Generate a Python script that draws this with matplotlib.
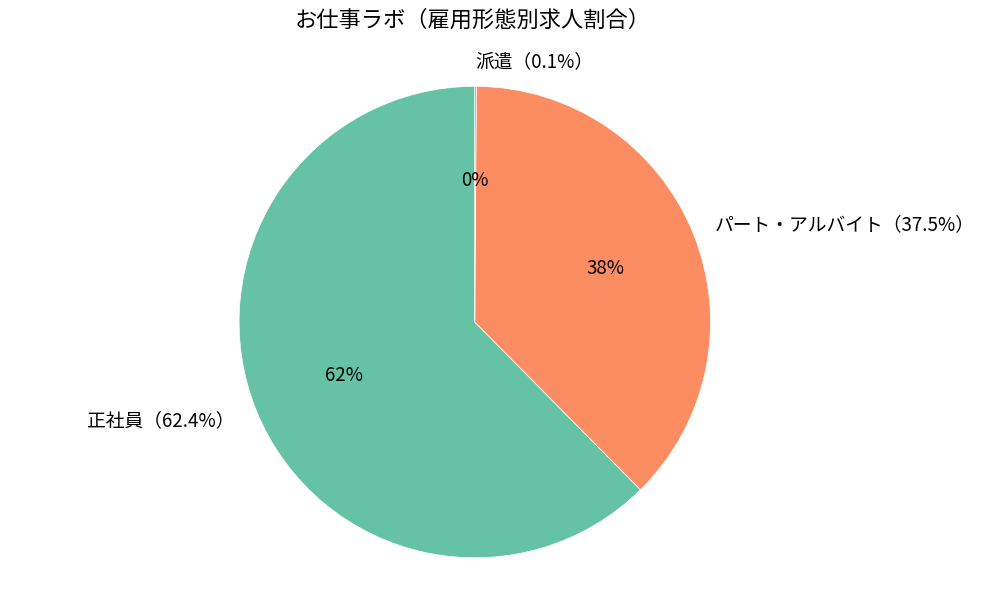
import matplotlib
matplotlib.use("Agg")
import matplotlib.pyplot as plt

plt.rcParams['font.family'] = ['Noto Sans CJK JP', 'DejaVu Sans']

categories = ["正社員", "パート・アルバイト", "派遣"]
shares = [62.4, 37.5, 0.1]
colors = ["#66c2a5", "#fc8d62", "#8da0cb"]

labels = [f"{c}（{v}%）" for c, v in zip(categories, shares)]

fig, ax = plt.subplots(figsize=(9.82, 5.92), dpi=100)
ax.pie(shares, labels=labels, colors=colors, autopct="%1.0f%%", startangle=90,
       textprops={"fontsize": 13.5}, wedgeprops={"edgecolor": "white", "linewidth": 0.5})
ax.axis("equal")
fig.suptitle("お仕事ラボ（雇用形態別求人割合）", fontsize=16, x=473 / 982, y=1 - 20 / 592, va="center")
fig.subplots_adjust(left=0.0, right=0.967, top=0.894, bottom=0.018)
fig.savefig("out.png", dpi=100)
